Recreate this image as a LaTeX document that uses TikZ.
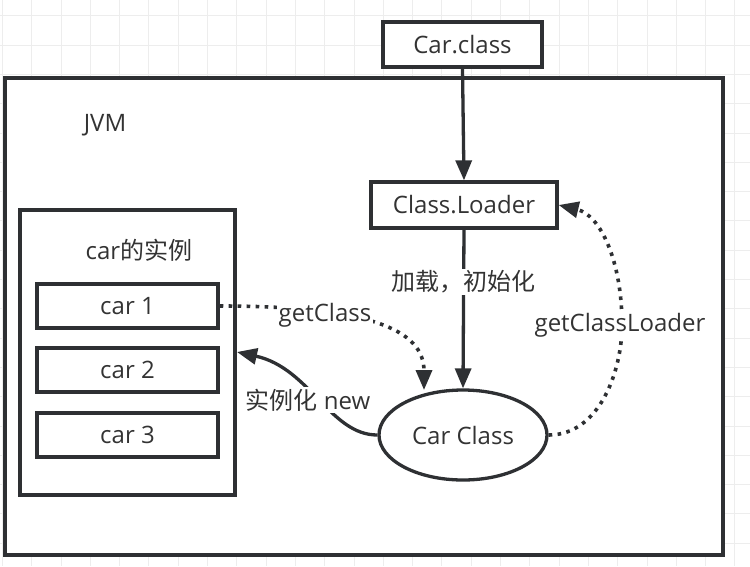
\documentclass[tikz,border=0pt]{standalone}
\usepackage{fontspec}
\setmainfont{Open Sans}
\newfontfamily\cjk{Noto Sans CJK SC}
\usetikzlibrary{arrows.meta,shapes.geometric}
\definecolor{ink}{HTML}{2E3033}
\definecolor{txt}{HTML}{333333}
\definecolor{gridc}{HTML}{EDEDED}
\begin{document}
\begin{tikzpicture}[x=1pt,y=-1pt,
  box/.style={draw=ink,line width=3.3pt,fill=white,inner sep=0pt,text=txt,font=\fontsize{24}{28}\selectfont},
  lbl/.style={fill=white,inner sep=2pt,text=txt,font=\fontsize{24}{28}\selectfont},
  conn/.style={draw=ink,line width=3.3pt,-{Triangle[width=16pt,length=20pt]}},
  dotconn/.style={draw=ink,line width=3.6pt,dash pattern=on 3.6pt off 5.4pt,-{Triangle[width=16pt,length=20pt]}}]
\useasboundingbox (0,0) rectangle (750,566);
\fill[white] (0,0) rectangle (750,566);
\foreach \i in {0,...,25} {
  \draw[gridc,line width=1pt] ({2.4+29.3*\i},0) -- ({2.4+29.3*\i},566);
}
\foreach \j in {0,...,19} {
  \draw[gridc,line width=1pt] (0,{15.8+29.3*\j}) -- (750,{15.8+29.3*\j});
}
% JVM frame
\node[box,minimum width=718pt,minimum height=477pt] (jvm) at (364,316.5) {};
\node[text=txt,font=\fontsize{24}{28}\selectfont] (jvmlbl) at (105,125) {JVM};
% top boxes
\node[box,minimum width=159pt,minimum height=45pt] (carclass) at (462.5,44.5) {Car.class};
\node[box,minimum width=186pt,minimum height=46pt] (loader) at (464,205) {Class.Loader};
% instances
\node[box,minimum width=215pt,minimum height=285pt] (inst) at (127.5,352.5) {};
\node[text=txt,font=\fontsize{24}{28}\selectfont] (instlbl) at (139,250) {car{\cjk 的实例}};
\node[box,minimum width=181pt,minimum height=44pt] (car1) at (127.5,306) {car 1};
\node[box,minimum width=181pt,minimum height=44pt] (car2) at (127.5,370) {car 2};
\node[box,minimum width=181pt,minimum height=44pt] (car3) at (127.5,435) {car 3};
% Car Class ellipse
\node[box,ellipse,minimum width=168pt,minimum height=90pt] (cc) at (463,435) {Car Class};
% connectors
\draw[conn] (carclass.south) -- (loader.north);
\draw[conn] (loader.south) -- (cc.north);
\node[lbl] (loadlbl) at (463,282) {\cjk 加载，初始化};
\coordinate (gctip) at (424,390);
\draw[dotconn] (car1.east) .. controls (370,306) and (424,330) .. (gctip);
\node[lbl] (gclbl) at (325,315) {getClass};
\coordinate (newtip) at (237,352);
\draw[conn] (cc.west) .. controls (330,435) and (310,368) .. (newtip);
\node[lbl] (newlbl) at (308,400) {{\cjk 实例化} new};
\draw[dotconn] (cc.east) .. controls (600,435) and (622,370) .. (622,325)
   .. controls (622,260) and (600,215) .. (loader.east);
\node[lbl] (gcllbl) at (620,325) {getClassLoader};
\end{tikzpicture}
\end{document}
